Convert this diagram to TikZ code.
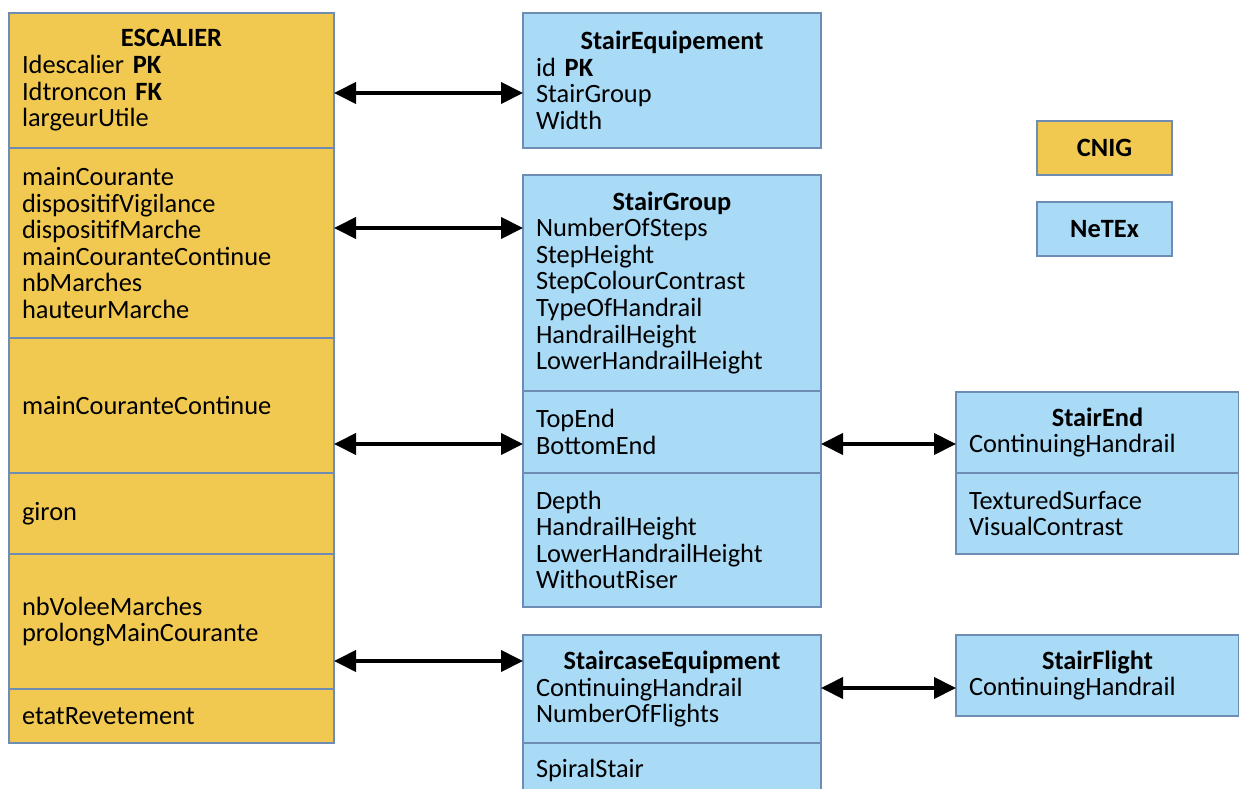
\documentclass[tikz,border=0pt]{standalone}
\usepackage{fontspec}
\setmainfont{Carlito}
\usetikzlibrary{positioning,arrows.meta}
\definecolor{cnig}{RGB}{242,201,80}
\definecolor{netex}{RGB}{169,218,246}
\definecolor{edgeline}{RGB}{110,140,180}
\newcommand{\classtitle}[1]{\hfill\textbf{#1}\hfill\null}

\begin{document}
\begin{tikzpicture}[x=1pt,y=-1pt,
	every node/.style={font=\fontsize{26.4}{26.6}\selectfont},
	box/.style={draw=edgeline,line width=1.3pt,align=left,inner xsep=13pt,inner ysep=0pt,outer sep=0pt},
	esc/.style={box,fill=cnig,text width=299pt},
	neq/.style={box,fill=netex,text width=272pt},
	nend/.style={box,fill=netex,text width=257pt},
	legend/.style={draw=edgeline,line width=1.3pt,minimum width=135pt,minimum height=54pt,outer sep=0pt,anchor=north west,font=\fontsize{26.4}{26.6}\selectfont\bfseries},
	link/.style={<->,>={Triangle[length=22pt,width=21pt]},line width=4pt}]

	\useasboundingbox (0,0) rectangle (1239,789);

	% CNIG table
	\node[esc,minimum height=135pt,anchor=north west] (esc1) at (9,13) {\classtitle{ESCALIER}\\Idescalier \textbf{PK}\\Idtroncon \textbf{FK}\\largeurUtile};
	\node[esc,minimum height=190pt] (esc2) [below=0pt of esc1] {mainCourante\\dispositifVigilance\\dispositifMarche\\mainCouranteContinue\\nbMarches\\hauteurMarche};
	\node[esc,minimum height=135pt] (esc3) [below=0pt of esc2] {mainCouranteContinue};
	\node[esc,minimum height=81pt] (esc4) [below=0pt of esc3] {giron};
	\node[esc,minimum height=135pt] (esc5) [below=0pt of esc4] {nbVoleeMarches\\prolongMainCourante};
	\node[esc,minimum height=54pt] (esc6) [below=0pt of esc5] {etatRevetement};

	% NeTEx classes
	\node[neq,minimum height=135pt,anchor=north west] (steq) at (523,13) {\classtitle{StairEquipement}\\id \textbf{PK}\\StairGroup\\Width};

	\node[neq,minimum height=216pt,anchor=north west] (sg1) at (523,175) {\classtitle{StairGroup}\\NumberOfSteps\\StepHeight\\StepColourContrast\\TypeOfHandrail\\HandrailHeight\\LowerHandrailHeight};
	\node[neq,minimum height=82pt] (sg2) [below=0pt of sg1] {TopEnd\\BottomEnd};
	\node[neq,minimum height=134pt] (sg3) [below=0pt of sg2] {Depth\\HandrailHeight\\LowerHandrailHeight\\WithoutRiser};

	\node[neq,minimum height=108pt,anchor=north west] (sc1) at (523,635) {\classtitle{StaircaseEquipment}\\ContinuingHandrail\\NumberOfFlights};
	\node[neq,minimum height=54pt] (sc2) [below=0pt of sc1] {SpiralStair};

	\node[nend,minimum height=81pt,anchor=north west] (se1) at (956,392) {\classtitle{StairEnd}\\ContinuingHandrail};
	\node[nend,minimum height=81pt] (se2) [below=0pt of se1] {TexturedSurface\\VisualContrast};

	\node[nend,minimum height=81pt,anchor=north west] (sf) at (956,635) {\classtitle{StairFlight}\\ContinuingHandrail};

	% legend
	\node[legend,fill=cnig] (lcnig) at (1037,121) {CNIG};
	\node[legend,fill=netex] (lnetex) at (1037,202) {NeTEx};

	\path[link]
		(esc1.east |- 0,93) edge (steq.west |- 0,93)
		(esc2.east |- 0,228) edge (sg1.west |- 0,228)
		(esc3.east |- 0,444) edge (sg2.west |- 0,444)
		(esc5.east |- 0,661) edge (sc1.west |- 0,661)
		(sg2.east |- 0,444) edge (se1.west |- 0,444)
		(sc1.east |- 0,688) edge (sf.west |- 0,688)
		;

\end{tikzpicture}
\end{document}
